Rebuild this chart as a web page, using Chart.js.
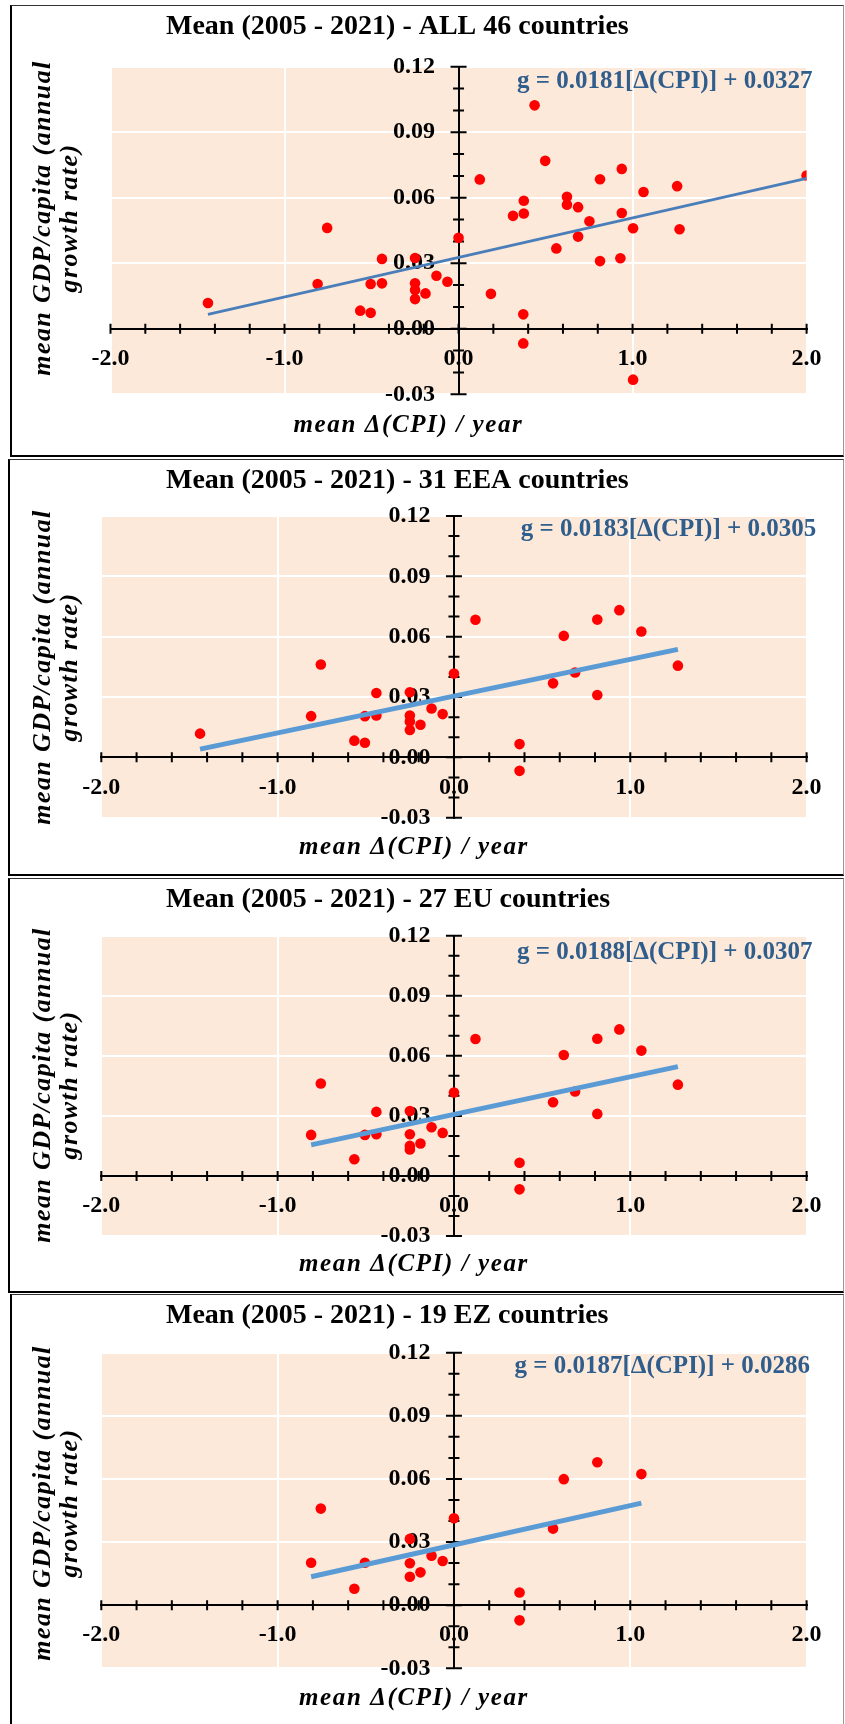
<!DOCTYPE html>
<html>
<head>
<title>Mean GDP/capita growth vs mean change in CPI</title>
<script src="https://cdn.jsdelivr.net/npm/chart.js@4.4.1/dist/chart.umd.min.js"></script>
<style>
  body { margin: 0; background: #fff; }
  #page { position: relative; width: 845px; height: 1724px; overflow: hidden; }
  .frame { position: absolute; box-sizing: border-box; border-top: 1px solid #333; border-left: 2px solid #000;
           border-bottom: 2px solid #000; border-right: 1px solid #999; pointer-events: none; }
  canvas { position: absolute; left: 0; }
</style>
</head>
<body>
<div id="page"></div>
<script>
// ---- values ----
// ALL 46 countries (some points sit on top of each other)
const allCpi = [-1.44, -0.81, -0.755, -0.565, -0.505, -0.505, -0.44, -0.44, -0.25, -0.25, -0.25, -0.25, -0.19, -0.127, -0.064, 0.0, 0.122,
                0.186, 0.313, 0.375, 0.375, 0.372, 0.372, 0.437, 0.498, 0.562, 0.623, 0.623, 0.687, 0.687, 0.752, 0.813, 0.813,
                0.930, 0.938, 0.938, 1.003, 1.003, 1.063, 1.256, 1.270, 2.0];
const allGdp = [0.0118, 0.0205, 0.0462, 0.0083, 0.0073, 0.0205, 0.0320, 0.0208, 0.0324, 0.0208, 0.0178, 0.0136, 0.0162, 0.0243, 0.0215, 0.0417, 0.0684,
                0.0160, 0.0517, 0.0586, 0.0528, 0.0066, -0.0067, 0.1023, 0.0769, 0.0368, 0.0604, 0.0568, 0.0557, 0.0422, 0.0492, 0.0685, 0.0310,
                0.0323, 0.0732, 0.0530, 0.0460, -0.0233, 0.0626, 0.0653, 0.0456, 0.0702];
// 31 EEA countries
const eeaCpi = [-1.44, -0.81, -0.755, -0.565, -0.505, -0.505, -0.44, -0.44, -0.25, -0.25, -0.25, -0.25, -0.19, -0.127, -0.064, 0.0, 0.122,
                0.372, 0.372, 0.562, 0.623, 0.687, 0.813, 0.813, 0.938, 1.063, 1.270];
const eeaGdp = [0.0118, 0.0205, 0.0462, 0.0083, 0.0073, 0.0205, 0.0320, 0.0208, 0.0324, 0.0208, 0.0178, 0.0136, 0.0162, 0.0243, 0.0215, 0.0417, 0.0684,
                0.0066, -0.0067, 0.0368, 0.0604, 0.0422, 0.0685, 0.0310, 0.0732, 0.0626, 0.0456];
// 27 EU countries
const euCpi = [-0.81, -0.755, -0.565, -0.505, -0.44, -0.44, -0.25, -0.25, -0.25, -0.25, -0.19, -0.127, -0.064, 0.0, 0.122,
               0.372, 0.372, 0.562, 0.623, 0.687, 0.813, 0.813, 0.938, 1.063, 1.270];
const euGdp = [0.0205, 0.0462, 0.0083, 0.0205, 0.0320, 0.0208, 0.0324, 0.0208, 0.0150, 0.0132, 0.0162, 0.0243, 0.0215, 0.0417, 0.0684,
               0.0066, -0.0067, 0.0368, 0.0604, 0.0422, 0.0685, 0.0310, 0.0732, 0.0626, 0.0456];
// 19 EZ countries
const ezCpi = [-0.81, -0.755, -0.565, -0.505, -0.25, -0.25, -0.25, -0.19, -0.127, -0.064, 0.0, 0.372, 0.372, 0.562, 0.623, 0.813, 1.063];
const ezGdp = [0.0202, 0.0459, 0.0078, 0.0202, 0.0315, 0.0199, 0.0135, 0.0156, 0.0235, 0.0210, 0.0413, 0.0060, -0.0072, 0.0364, 0.0599, 0.0679, 0.0623];

// linear trend lines: end points as drawn
const trendStartX = [-1.44, -1.44, -0.81, -0.81];
const trendEndX = [2.0, 1.27, 1.27, 1.063];
const trendStartY = [0.0066, 0.0041, 0.0155, 0.0135];
const trendEndY = [0.0689, 0.0537, 0.0546, 0.0485];

const titles = ['Mean (2005 - 2021) - ALL 46 countries', 'Mean (2005 - 2021) - 31 EEA countries',
                'Mean (2005 - 2021) - 27 EU countries', 'Mean (2005 - 2021) - 19 EZ countries'];
const equations = ['g = 0.0181[\u0394(CPI)] + 0.0327', 'g = 0.0183[\u0394(CPI)] + 0.0305',
                   'g = 0.0188[\u0394(CPI)] + 0.0307', 'g = 0.0187[\u0394(CPI)] + 0.0286'];
const xTitle = 'mean \u0394(CPI) / year';
const yTitleLines = ['mean GDP/capita (annual', 'growth rate)'];

const cpiSets = [allCpi, eeaCpi, euCpi, ezCpi];
const gdpSets = [allGdp, eeaGdp, euGdp, ezGdp];

// ---- page layout of the four stacked panels ----
const panels = [
  {top: 0, h: 457, pad: {left: 110.5, top: 66.7, right: 38.4, bottom: 62.7}, titleY: 27, eqX: 517, eqY: 82, xtX: 408.5, xtY: 426, ytY: 218,
   frame: [10, 5, 834, 452], trendColor: '#4A7EBB', trendWidth: 2.75},
  {top: 457, h: 419, pad: {left: 101.3, top: 59, right: 38.4, bottom: 58.3}, titleY: 24, eqX: 520.7, eqY: 73, xtX: 414, xtY: 391, ytY: 210,
   frame: [8, 459, 836, 417], trendColor: '#5B9BD5', trendWidth: 5},
  {top: 876, h: 417, pad: {left: 101.3, top: 59.7, right: 38.4, bottom: 57}, titleY: 24, eqX: 517, eqY: 76.7, xtX: 414, xtY: 389, ytY: 209,
   frame: [8, 878, 836, 415], trendColor: '#5B9BD5', trendWidth: 5},
  {top: 1293, h: 431, pad: {left: 101.3, top: 59.7, right: 38.4, bottom: 55.7}, titleY: 23, eqX: 514.5, eqY: 73.7, xtX: 414, xtY: 406, ytY: 210,
   frame: [10, 1294, 834, 440], trendColor: '#5B9BD5', trendWidth: 5}
];

const SERIF = '"Liberation Serif", "Times New Roman", serif';
const isStep = (v, step) => Math.abs(v / step - Math.round(v / step)) < 1e-6;

// draws the peach plot area, cross tick marks, y labels and all the titles
const decor = {
  id: 'decor',
  beforeDraw(chart) {
    const {ctx, chartArea: a} = chart;
    ctx.save();
    ctx.fillStyle = '#FDE9D9';
    ctx.fillRect(a.left, a.top, a.right - a.left, a.bottom - a.top);
    ctx.restore();
  },
  beforeDatasetsDraw(chart) {
    const {ctx} = chart;
    const xs = chart.scales.x, ys = chart.scales.y;
    const x0 = xs.getPixelForValue(0), y0 = ys.getPixelForValue(0);
    ctx.save();
    ctx.strokeStyle = '#000';
    ctx.lineWidth = 2;
    ctx.beginPath();
    xs.ticks.forEach(t => {
      const px = xs.getPixelForValue(t.value);
      ctx.moveTo(px, y0 - 5); ctx.lineTo(px, y0 + 5);
    });
    ys.ticks.forEach(t => {
      const py = ys.getPixelForValue(t.value);
      const len = isStep(t.value, 0.03) ? 8 : 5.5;
      ctx.moveTo(x0 - len, py); ctx.lineTo(x0 + len, py);
    });
    ctx.stroke();

    // y tick labels next to the vertical axis
    ctx.fillStyle = '#000';
    ctx.font = 'bold 24px ' + SERIF;
    ctx.textAlign = 'right';
    ctx.textBaseline = 'middle';
    ys.ticks.forEach(t => {
      if (isStep(t.value, 0.03)) ctx.fillText(t.value.toFixed(2), x0 - 23.5, ys.getPixelForValue(t.value));
    });
    ctx.restore();
  },
  afterDraw(chart, args, opts) {
    const {ctx} = chart;
    const L = opts.layout;
    ctx.save();
    ctx.fillStyle = '#000';
    ctx.textBaseline = 'middle';
    ctx.textAlign = 'left';
    ctx.font = 'bold 28px ' + SERIF;
    ctx.fillText(opts.title, 166, L.titleY);

    ctx.fillStyle = '#2F5D8C';
    ctx.font = 'bold 25px ' + SERIF;
    ctx.fillText(opts.equation, L.eqX, L.eqY);

    ctx.fillStyle = '#000';
    ctx.font = 'italic bold 25px ' + SERIF;
    ctx.textAlign = 'center';
    ctx.letterSpacing = '1.6px';
    ctx.fillText(xTitle, L.xtX, L.xtY);

    ctx.translate(0, L.ytY);
    ctx.rotate(-Math.PI / 2);
    ctx.font = 'italic bold 26px ' + SERIF;
    ctx.textBaseline = 'alphabetic';
    ctx.letterSpacing = '1.4px';
    ctx.fillText(yTitleLines[0], 0, 50);
    ctx.fillText(yTitleLines[1], 0, 77);
    ctx.restore();
  }
};

const page = document.getElementById('page');

panels.forEach((L, i) => {
  const canvas = document.createElement('canvas');
  canvas.width = 845;
  canvas.height = L.h;
  canvas.style.top = L.top + 'px';
  page.appendChild(canvas);

  const frame = document.createElement('div');
  frame.className = 'frame';
  frame.style.left = L.frame[0] + 'px';
  frame.style.top = L.frame[1] + 'px';
  frame.style.width = L.frame[2] + 'px';
  frame.style.height = L.frame[3] + 'px';
  page.appendChild(frame);

  const points = cpiSets[i].map((x, k) => ({x: x, y: gdpSets[i][k]}));
  const trend = [{x: trendStartX[i], y: trendStartY[i]}, {x: trendEndX[i], y: trendEndY[i]}];

  new Chart(canvas.getContext('2d'), {
    type: 'scatter',
    data: {
      datasets: [
        {data: trend, showLine: true, borderColor: L.trendColor, borderWidth: L.trendWidth, pointRadius: 0, order: 0},
        {data: points, backgroundColor: '#FF0000', borderWidth: 0, pointRadius: 5.3, order: 1}
      ]
    },
    options: {
      responsive: false,
      animation: false,
      devicePixelRatio: 1,
      layout: {padding: L.pad},
      plugins: {
        legend: {display: false},
        tooltip: {enabled: false},
        decor: {layout: L, title: titles[i], equation: equations[i]}
      },
      scales: {
        x: {
          type: 'linear', min: -2, max: 2, position: {y: 0},
          ticks: {
            stepSize: 0.2, autoSkip: false, maxRotation: 0, minRotation: 0, padding: 15.6,
            color: '#000', font: {family: SERIF, weight: 'bold', size: 24},
            callback: v => isStep(v, 1) ? v.toFixed(1) : ''
          },
          grid: {drawTicks: false, lineWidth: 2, color: c => isStep(c.tick.value, 1) ? '#FFFFFF' : 'rgba(0,0,0,0)'},
          border: {display: true, color: '#000', width: 2}
        },
        y: {
          type: 'linear', min: -0.03, max: 0.12, position: {x: 0},
          ticks: {stepSize: 0.01, display: false},
          grid: {drawTicks: false, lineWidth: 2, color: c => isStep(c.tick.value, 0.03) ? '#FFFFFF' : 'rgba(0,0,0,0)'},
          border: {display: true, color: '#000', width: 2}
        }
      }
    },
    plugins: [decor]
  });
});
</script>
</body>
</html>
